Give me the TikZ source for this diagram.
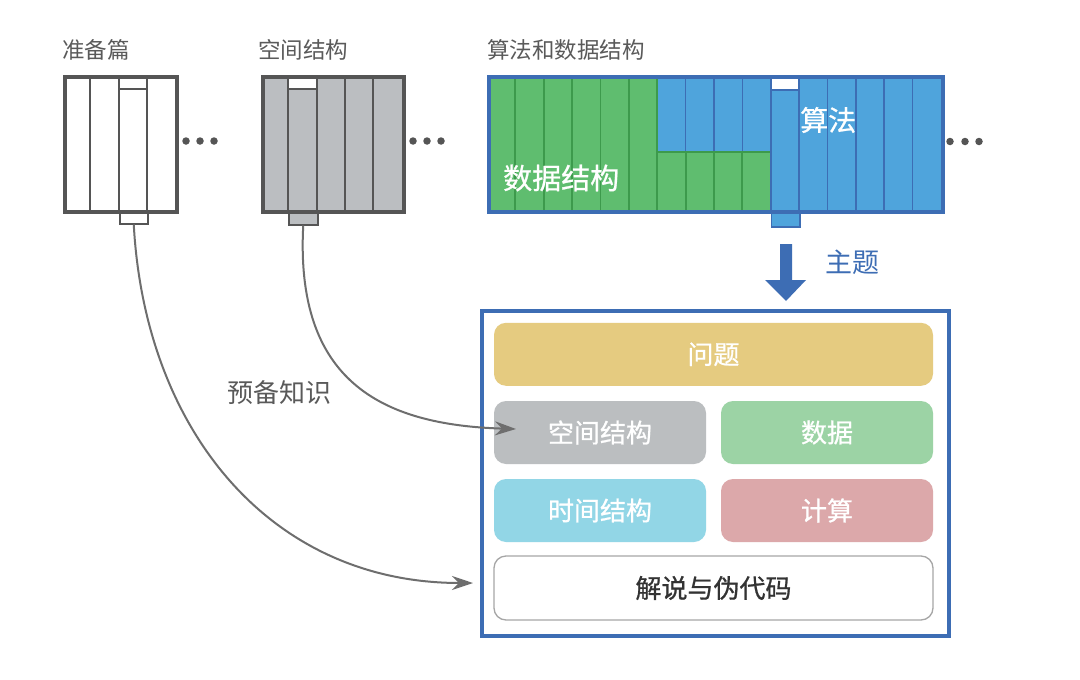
\documentclass[tikz,border=0pt]{standalone}
\usepackage{fontspec}
\setmainfont{Noto Sans CJK SC}
\newfontfamily\medfont[FakeBold=0.8]{Noto Sans CJK SC}
\usetikzlibrary{arrows.meta}
\definecolor{frameg}{HTML}{555555}
\definecolor{bookgrey}{HTML}{BBBEC1}
\definecolor{bgreen}{HTML}{5FBD6F}
\definecolor{dgreen}{HTML}{3D9A4C}
\definecolor{bblue}{HTML}{4FA4DC}
\definecolor{dblue}{HTML}{3D6DB4}
\definecolor{cq}{HTML}{E5CB80}
\definecolor{cspace}{HTML}{BBBEC0}
\definecolor{cdata}{HTML}{9CD3A5}
\definecolor{ctime}{HTML}{92D6E6}
\definecolor{ccalc}{HTML}{DCA8AA}
\definecolor{txtg}{HTML}{5A5A5A}
\definecolor{curveg}{HTML}{6E6E6E}
\tikzset{
  toplabel/.style={anchor=west,inner sep=0pt,text=txtg,font=\fontsize{22.5}{22.5}\selectfont},
  ibox/.style={rounded corners=12pt,draw=none,inner sep=0pt,text=white,font=\medfont\fontsize{26}{26}\selectfont,minimum height=63pt},
  tabbox/.style={anchor=north west,inner sep=0pt,line width=1.5pt},
  conn/.style={draw=curveg,line width=2pt,-{Stealth[length=21pt,width=14pt,inset=7pt]}},
  dot/.style={circle,fill=frameg,inner sep=0pt,minimum size=7.5pt},
}
\begin{document}
\begin{tikzpicture}[x=1pt,y=-1pt]
\useasboundingbox (0,0) rectangle (1080,680);
\fill[white] (0,0) rectangle (1080,680);

% ---------- Book 1 (准备篇)
\node[toplabel] (l1) at (62,50) {准备篇};
\node[tabbox,draw=frameg,fill=white,minimum width=28pt,minimum height=14pt] (tab1) at (119,209) {};
\fill[white] (63,75) rectangle (175,210);
\draw[frameg,line width=1.8pt] (90,75) -- (90,210) (119,75) -- (119,210) (147,75) -- (147,210) (119,89) -- (147,89);
\node[draw=frameg,line width=4pt,inner sep=0pt,minimum width=112pt,minimum height=135pt,anchor=north west] (book1) at (63,75) {};

% ---------- Book 2 (空间结构)
\node[toplabel] (l2) at (258,50) {空间结构};
\node[tabbox,draw=frameg,fill=bookgrey,minimum width=29pt,minimum height=15pt] (tab2) at (288,209) {};
\fill[bookgrey] (260.5,75) rectangle (402,210);
\fill[white] (288,75) rectangle (317,89);
\draw[frameg,line width=1.8pt] (288,75) -- (288,210) (317,75) -- (317,210) (345,75) -- (345,210) (373,75) -- (373,210) (288,89) -- (317,89);
\node[draw=frameg,line width=4pt,inner sep=0pt,minimum width=141.5pt,minimum height=135pt,anchor=north west] (book2) at (260.5,75) {};

% ---------- Book 3 (算法和数据结构)
\node[toplabel] (l3) at (487,50) {算法和数据结构};
\node[tabbox,draw=dblue,fill=bblue,minimum width=28.35pt,minimum height=17pt] (tab3) at (770.75,209) {};
\fill[bblue] (487,75) rectangle (941,210);
\fill[bgreen] (487,75) rectangle (657.25,210);
\fill[bgreen] (657.25,152) rectangle (770.75,210);
\fill[white] (770.75,75) rectangle (799.1,90);
\foreach \i in {1,...,5} { \draw[dgreen,line width=1.8pt] ({487+28.375*\i},75) -- ({487+28.375*\i},210); }
\draw[dgreen,line width=1.8pt] (657.25,75) -- (657.25,210);
\foreach \i in {7,...,9} { \draw[dblue,line width=1.6pt] ({487+28.375*\i},75) -- ({487+28.375*\i},152); \draw[dgreen,line width=1.8pt] ({487+28.375*\i},152) -- ({487+28.375*\i},210); }
\draw[dgreen,line width=1.8pt] (657.25,152) -- (770.75,152);
\foreach \i in {10,...,15} { \draw[dblue,line width=1.6pt] ({487+28.375*\i},75) -- ({487+28.375*\i},210); }
\draw[dblue,line width=1.6pt] (770.75,90) -- (799.1,90);
\node[draw=dblue,line width=4pt,inner sep=0pt,minimum width=454pt,minimum height=135pt,anchor=north west] (book3) at (487,75) {};
\node[anchor=west,inner sep=0pt,text=white,font=\medfont\fontsize{29}{29}\selectfont] (dsl) at (503,178) {数据结构};
\node[anchor=west,inner sep=0pt,text=white,font=\medfont\fontsize{28}{28}\selectfont] (algl) at (800,120) {算法};

% ---------- dots
\foreach \x [count=\k] in {186,200,214} { \node[dot] (da\k) at (\x,141) {}; }
\foreach \x [count=\k] in {413,427,441} { \node[dot] (db\k) at (\x,141) {}; }
\foreach \x [count=\k] in {950,965,979} { \node[dot] (dc\k) at (\x,141.5) {}; }

% ---------- blue arrow and 主题
\fill[dblue] (780,244) -- (792,244) -- (792,280) -- (806,280) -- (786,301) -- (765,280) -- (780,280) -- cycle;
\node[anchor=west,inner sep=0pt,text=dblue,font=\fontsize{27}{27}\selectfont] (zt) at (825,262) {主题};

% ---------- bottom box
\node[draw=dblue,line width=4pt,inner sep=0pt,minimum width=467pt,minimum height=324.5pt,anchor=north west] (main) at (480,309) {};
\node[ibox,fill=cq,minimum width=439pt] (wenti) at (713.5,354.3) {问题};
\node[ibox,fill=cspace,minimum width=212pt] (kongjian) at (600,432.5) {空间结构};
\node[ibox,fill=cdata,minimum width=212pt] (shuju) at (827,432.5) {数据};
\node[ibox,fill=ctime,minimum width=212pt] (shijian) at (600,510.5) {时间结构};
\node[ibox,fill=ccalc,minimum width=212pt] (jisuan) at (827,510.5) {计算};
\node[ibox,fill=white,draw=black!35,line width=1.3pt,text=black!80,minimum width=439pt,minimum height=64pt] (jieshuo) at (713.5,588) {解说与伪代码};

% ---------- connectors
\coordinate (e1) at (473,583);
\coordinate (e2) at (516,429);
\draw[conn] (tab1.south) .. controls (145,430) and (270,583) .. (e1);
\draw[conn] (tab2.south) .. controls (295,380) and (380,425) .. (e2);
\node[anchor=west,inner sep=0pt,text=txtg,font=\fontsize{26}{26}\selectfont] (ybzs) at (227,393) {预备知识};
\end{tikzpicture}
\end{document}
